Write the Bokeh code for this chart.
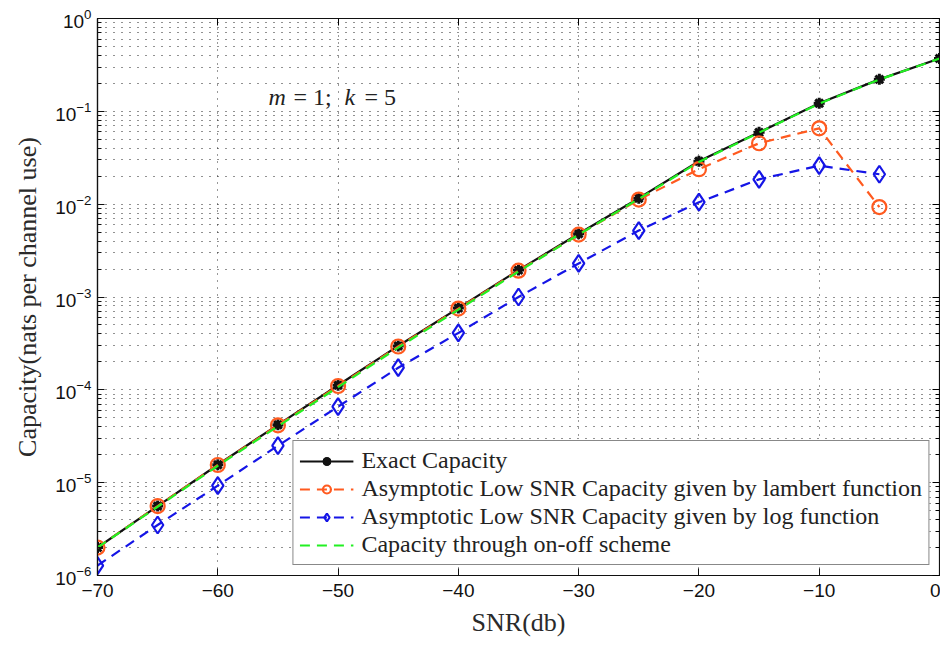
from bokeh.plotting import figure
from bokeh.models import (FixedTicker, LinearAxis, LogAxis, Legend, LegendItem,
                          CustomJSTickFormatter, Label, Range1d)
from bokeh.embed import file_html
from bokeh.resources import INLINE

snr = [-70, -65, -60, -55, -50, -45, -40, -35, -30, -25, -20, -15, -10, -5, 0]
exact = [2.0e-6, 5.6e-6, 1.56e-5, 4.2e-5, 1.12e-4, 2.97e-4, 7.6e-4, 1.95e-3,
         4.8e-3, 1.16e-2, 2.9e-2, 5.94e-2, 0.122, 0.221, 0.371]
snr_asym = [-70, -65, -60, -55, -50, -45, -40, -35, -30, -25, -20, -15, -10, -5]
lambert = [2.0e-6, 5.6e-6, 1.55e-5, 4.15e-5, 1.1e-4, 2.93e-4, 7.5e-4, 1.92e-3,
           4.7e-3, 1.12e-2, 2.38e-2, 4.53e-2, 6.56e-2, 9.3e-3]
logfun = [1.28e-6, 3.5e-6, 9.3e-6, 2.5e-5, 6.6e-5, 1.73e-4, 4.1e-4, 1.0e-3,
          2.3e-3, 5.2e-3, 1.05e-2, 1.85e-2, 2.6e-2, 2.1e-2]
onoff = [2.0e-6, 5.5e-6, 1.52e-5, 4.05e-5, 1.07e-4, 2.85e-4, 7.3e-4, 1.88e-3,
         4.7e-3, 1.14e-2, 2.85e-2, 5.9e-2, 0.121, 0.22, 0.37]

x_ticks = [-70, -60, -50, -40, -30, -20, -10, 0]
y_ticks = [10.0 ** k for k in range(-6, 1)]
y_minor = [m * 10.0 ** k for k in range(-6, 0) for m in range(2, 10)]

legend_labels = ["Exact Capacity",
                 "Asymptotic Low SNR Capacity given by lambert function",
                 "Asymptotic Low SNR Capacity given by log function",
                 "Capacity through on-off scheme"]

BLACK = "#111111"
ORANGE = "#ff5a1f"
BLUE = "#1515e6"
GREEN = "#22f022"
SERIF = "Liberation Serif"
SANS = "Liberation Sans"

p = figure(width=940, height=646, y_axis_type="log",
           x_range=Range1d(-70, 0), y_range=Range1d(1e-6, 1),
           output_backend="svg", toolbar_location=None,
           min_border_left=97, min_border_right=1, min_border_top=18,
           min_border_bottom=71)
p.background_fill_color = "white"
p.outline_line_color = BLACK
p.outline_line_width = 1.2

xt = FixedTicker(ticks=x_ticks)
yt = FixedTicker(ticks=y_ticks, minor_ticks=y_minor)

xfmt = CustomJSTickFormatter(code="return tick < 0 ? '\u2212' + Math.abs(tick) : tick.toString();")

xa = p.xaxis[0]
xa.ticker = xt
xa.formatter = xfmt
ya = p.yaxis[0]
ya.ticker = yt

for ax in (xa, ya):
    ax.major_tick_in = 7
    ax.major_tick_out = 0
    ax.minor_tick_in = 4
    ax.minor_tick_out = 0
    ax.axis_line_color = BLACK
    ax.axis_line_width = 1.2
    ax.major_tick_line_color = BLACK
    ax.minor_tick_line_color = BLACK
    ax.major_label_text_font = SANS
    ax.major_label_text_font_size = "19px"
    ax.major_label_text_color = BLACK
    ax.axis_label_text_font = SERIF
    ax.axis_label_text_font_size = "26px"
    ax.axis_label_text_font_style = "normal"
    ax.axis_label_text_color = "#2a2a2a"

xa.minor_tick_line_color = None
xa.axis_label = "SNR(db)"
xa.major_label_standoff = 8
xa.axis_label_standoff = 8
ya.axis_label = "Capacity(nats per channel use)"
ya.major_label_standoff = 6
ya.axis_label_standoff = 10

top = LinearAxis(ticker=xt, major_label_text_font_size="1px",
                 major_label_text_color=None,
                 major_label_standoff=0, major_tick_in=7, major_tick_out=0,
                 minor_tick_line_color=None, axis_line_color=BLACK)
right = LogAxis(ticker=yt, major_label_text_font_size="1px",
                major_label_text_color=None,
                major_label_standoff=0, major_tick_in=7, major_tick_out=0,
                minor_tick_in=4, minor_tick_out=0, axis_line_color=BLACK)
p.add_layout(top, "above")
p.add_layout(right, "right")

p.xgrid.ticker = xt
p.xgrid.grid_line_color = "#333333"
p.xgrid.grid_line_dash = "1 6"
p.xgrid.grid_line_width = 1
p.ygrid.ticker = yt
p.ygrid.grid_line_color = "#222222"
p.ygrid.grid_line_dash = "1 7"
p.ygrid.minor_grid_line_color = "#222222"
p.ygrid.minor_grid_line_dash = "1 7"

r_exact = p.line(snr, exact, line_color=BLACK, line_width=2.2)
m_exact = p.scatter(snr, exact, marker="asterisk", size=11, line_color=BLACK,
                    line_width=3)
m_exact2 = p.scatter(snr, exact, marker="circle", size=7, fill_color=BLACK,
                     line_color=BLACK)
r_lam = p.line(snr_asym, lambert, line_color=ORANGE, line_width=2.2,
               line_dash="10 7")
m_lam = p.scatter(snr_asym, lambert, marker="circle", size=14, fill_color=None,
                  line_color=ORANGE, line_width=2.2)
r_log = p.line(snr_asym, logfun, line_color=BLUE, line_width=2.2,
               line_dash="10 7")
m_log = p.scatter(snr_asym, logfun, marker="diamond", size=17, fill_color=None,
                  line_color=BLUE, line_width=2.2)
r_on = p.line(snr, onoff, line_color=GREEN, line_width=2.2, line_dash="10 7")

legend = Legend(items=[
    LegendItem(label=legend_labels[0], renderers=[r_exact, m_exact, m_exact2]),
    LegendItem(label=legend_labels[1], renderers=[r_lam, m_lam]),
    LegendItem(label=legend_labels[2], renderers=[r_log, m_log]),
    LegendItem(label=legend_labels[3], renderers=[r_on]),
], location="bottom_right")
legend.label_text_font = SERIF
legend.label_text_font_size = "24px"
legend.label_text_color = "#222222"
legend.border_line_color = BLACK
legend.border_line_width = 1.2
legend.background_fill_alpha = 1
legend.glyph_width = 54
legend.glyph_height = 20
legend.label_height = 20
legend.label_standoff = 8
legend.spacing = 1
legend.padding = 6
legend.margin = 10
p.add_layout(legend)

for txt, xx, style in [("m", -55.79, "italic"), ("= 1;", -53.71, "normal"),
                       ("k", -49.47, "italic"), ("= 5", -47.81, "normal")]:
    p.add_layout(Label(x=xx, y=0.141, text=txt, text_font=SERIF,
                       text_font_size="24px", text_font_style=style,
                       text_color="#222222", text_baseline="alphabetic",
                       text_align="left"))

open("out.html", "w").write(file_html(p, INLINE))
